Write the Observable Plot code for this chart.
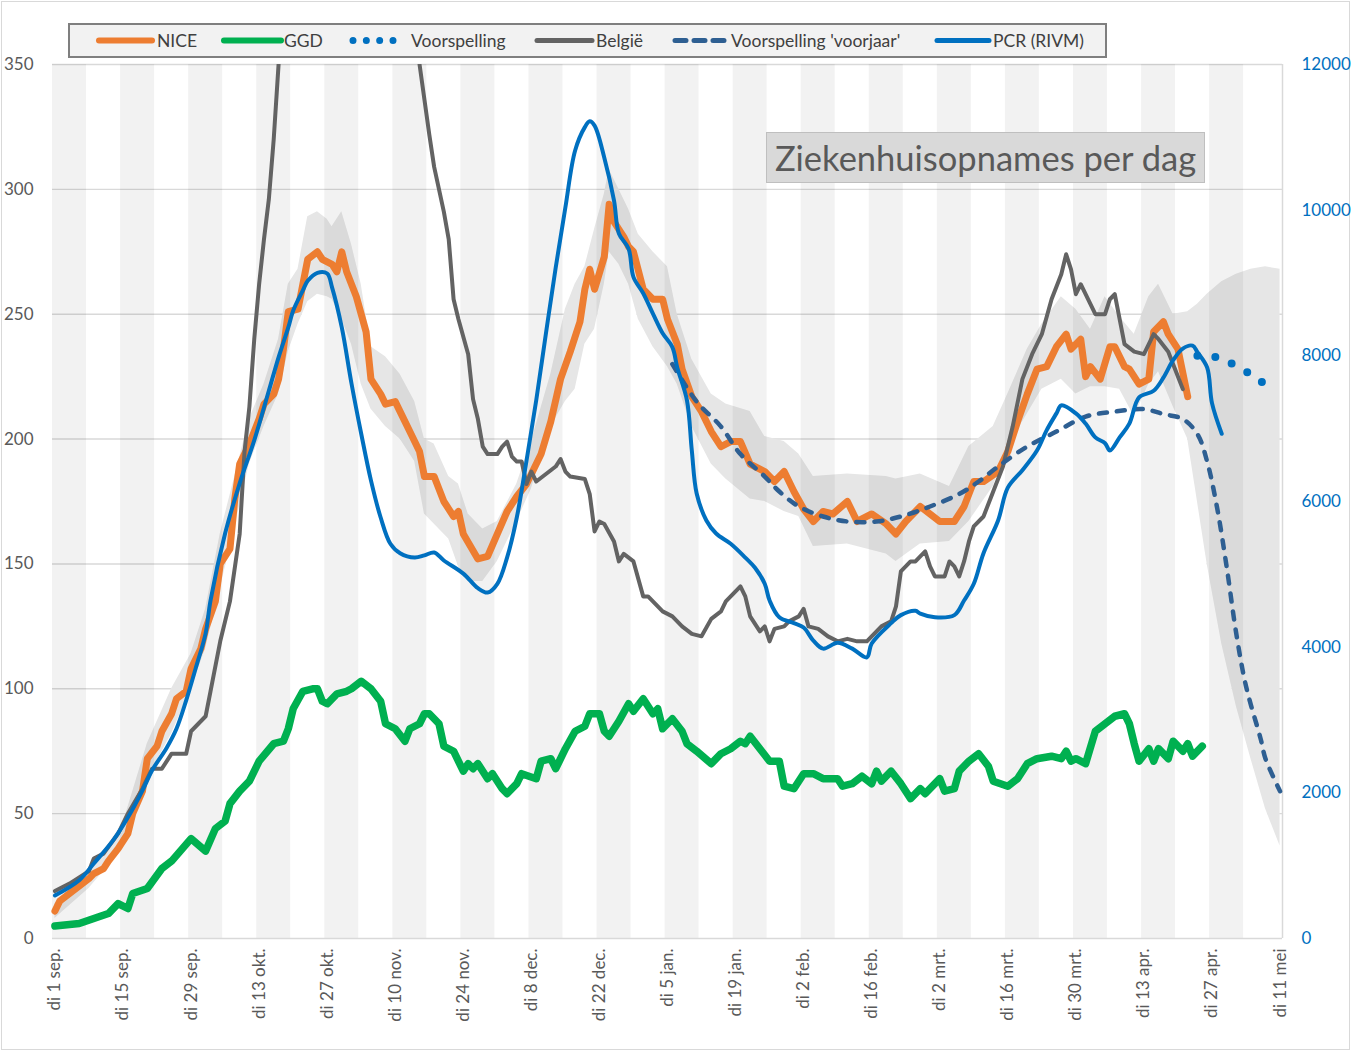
<!DOCTYPE html>
<html lang="nl">
<head>
<meta charset="utf-8">
<title>Ziekenhuisopnames per dag</title>
<script src="https://cdn.jsdelivr.net/npm/d3@7"></script>
<script src="https://cdn.jsdelivr.net/npm/@observablehq/plot@0.6"></script>
<style>
  html, body { margin: 0; padding: 0; background: #fff; }
  #figure { position: relative; width: 1352px; height: 1052px; overflow: hidden; font-family: Lato, "Open Sans", sans-serif; }
  #frame { position: absolute; left: 1px; top: 1px; width: 1347px; height: 1047px; border: 1px solid #d9d9d9; pointer-events: none; }
  #title-box { position: absolute; left: 766px; top: 132px; width: 437px; height: 49px; background: #d9d9d9; border: 1px solid #bfbfbf; color: #595959; font-size: 34.5px; line-height: 49px; text-align: center; white-space: nowrap; }
</style>
</head>
<body>
<div id="figure"><div id="frame"></div></div>
<script>
// Days are counted from Tuesday 1 September 2020.
const START = Date.UTC(2020, 8, 1);
const DAY = 864e5;
const toDate = n => new Date(START + n * DAY);

// Tick marks every two weeks (always a Tuesday)
const tickDays = [0, 14, 28, 42, 56, 70, 84, 98, 112, 126, 140, 154, 168, 182, 196, 210, 224, 238, 252];
const tickLabels = ["di 1 sep.", "di 15 sep.", "di 29 sep.", "di 13 okt.", "di 27 okt.", "di 10 nov.", "di 24 nov.",
  "di 8 dec.", "di 22 dec.", "di 5 jan.", "di 19 jan.", "di 2 feb.", "di 16 feb.", "di 2 mrt.", "di 16 mrt.",
  "di 30 mrt.", "di 13 apr.", "di 27 apr.", "di 11 mei"];
const leftTicks = [0, 50, 100, 150, 200, 250, 300, 350];
const rightTicks = [0, 2000, 4000, 6000, 8000, 10000, 12000];

// NICE hospital admissions per day [day, value]
const nice = [[0,11],[1,15],[3,18],[5,21],[7,24],[8,26],[10,28],[11,31],[13,36],[15,42],[16,50],[18,59],[19,72],[21,77],[22,83],[24,90],[25,96],[27,99],[28,108],[30,116],[31,124],[33,135],[34,150],[36,156],[37,176],[38,190],[40,198],[42,208],[43,214],[45,218],[46,224],[47,236],[48,251],[50,252],[51,262],[52,272],[54,275],[55,272],[57,270],[58,267],[59,275],[60,267],[62,257],[64,243],[65,224],[67,218],[68,214],[70,215],[71,211],[73,203],[75,195],[76,185],[78,185],[80,175],[82,169],[83,171],[84,162],[87,152],[89,153],[91,162],[93,171],[95,177],[97,182],[100,194],[102,207],[104,224],[106,235],[108,247],[109,260],[110,268],[111,260],[113,273],[114,294],[115,287],[117,281],[118,277],[119,275],[121,260],[123,256],[125,256],[126,248],[128,238],[129,228],[131,217],[133,211],[135,203],[137,197],[139,199],[141,199],[143,190],[146,187],[148,183],[150,187],[152,179],[154,172],[156,167],[158,171],[160,170],[163,175],[165,167],[168,170],[171,166],[173,162],[175,167],[178,173],[180,170],[182,167],[185,167],[187,173],[189,183],[191,183],[194,187],[196,195],[198,207],[200,218],[202,228],[204,229],[206,237],[208,242],[209,236],[211,240],[212,225],[213,229],[215,224],[217,237],[218,237],[220,229],[221,228],[223,222],[225,224],[226,243],[228,247],[229,242],[231,236],[233,217]];

// Uncertainty band around NICE, continued by the forecast band [day, lower, upper]
const band = [[0,8,14],[7,20,27],[14,36,46],[19,64,78],[24,82,100],[28,100,114],[31,116,132],[34,140,162],[37,165,185],[40,190,208],[43,205,222],[46,218,240],[48,235,262],[50,246,268],[52,255,289],[54,258,291],[56,257,288],[57,256,285],[59,248,291],[61,238,278],[63,222,262],[65,212,237],[68,205,233],[71,200,226],[74,191,215],[76,170,200],[78,166,198],[81,160,185],[83,149,182],[85,143,170],[88,143,164],[91,151,167],[95,167,182],[98,180,199],[102,205,226],[105,215,252],[107,220,262],[109,238,269],[111,244,284],[113,262,298],[114,275,308],[116,270,300],[118,262,292],[120,248,282],[123,237,275],[126,229,269],[128,222,250],[131,205,232],[135,190,218],[138,184,214],[143,176,211],[146,175,201],[150,171,199],[153,169,194],[156,157,185],[163,158,186],[171,154,185],[173,151,184],[178,158,186],[184,159,181],[188,167,197],[193,181,205],[196,197,218],[200,210,236],[203,220,246],[207,224,257],[210,218,252],[213,221,244],[216,221,257],[219,220,249],[222,209,242],[225,222,257],[227,227,262],[230,213,250],[233,200,251],[235,175,254],[237,150,258],[240,118,263],[243,93,266],[246,72,268],[249,52,269],[252,37,268]];

// GGD hospital admissions per day [day, value]
const ggd = [[0,5],[5,6],[8,8],[11,10],[13,14],[15,12],[16,18],[19,20],[22,28],[24,31],[28,40],[31,35],[33,44],[35,47],[36,54],[38,59],[40,63],[42,71],[45,78],[47,79],[48,84],[49,92],[51,99],[53,100],[54,100],[55,95],[56,94],[58,98],[60,99],[61,100],[63,103],[65,100],[67,95],[68,86],[70,84],[72,79],[73,84],[75,86],[76,90],[77,90],[79,86],[80,77],[82,75],[84,67],[85,70],[86,68],[87,70],[89,64],[90,66],[92,60],[93,58],[95,62],[96,66],[99,64],[100,71],[102,72],[103,68],[105,76],[107,83],[109,85],[110,90],[112,90],[113,83],[114,81],[116,87],[118,94],[119,91],[121,96],[123,90],[124,92],[125,84],[127,88],[129,83],[130,78],[132,75],[135,70],[137,74],[139,76],[141,79],[142,78],[143,81],[145,76],[147,71],[149,71],[150,61],[152,60],[154,66],[156,66],[158,64],[161,64],[162,61],[164,62],[166,65],[168,62],[169,67],[170,63],[172,67],[174,62],[176,56],[178,60],[179,58],[182,64],[183,59],[185,60],[186,67],[188,71],[190,74],[192,69],[193,63],[196,61],[198,64],[200,70],[202,72],[205,73],[207,72],[208,75],[209,71],[210,72],[212,70],[214,83],[216,86],[218,89],[220,90],[221,86],[222,78],[223,71],[225,76],[226,71],[227,76],[229,72],[230,79],[232,75],[233,78],[234,73],[236,77]];

// Belgium (runs above the top of the scale between mid-October and mid-November) [day, value]
const belgie = [[0,19],[3,22],[7,27],[8,32],[10,34],[13,42],[15,50],[18,60],[20,68],[22,68],[24,74],[27,74],[28,83],[31,89],[32,99],[34,119],[36,135],[38,162],[39,195],[40,213],[41,240],[42,262],[43,280],[44,296],[45,320],[46,350],[60,null],[75,350],[76,336],[77,322],[78,309],[80,291],[81,280],[82,256],[83,248],[85,234],[86,216],[87,208],[88,197],[89,194],[91,194],[92,197],[93,199],[94,193],[95,191],[96,191],[97,182],[98,187],[99,183],[101,186],[103,189],[104,192],[105,187],[106,185],[109,184],[110,178],[111,163],[112,167],[113,166],[115,159],[116,151],[117,154],[119,151],[121,137],[122,137],[123,135],[125,131],[127,129],[129,125],[131,122],[133,121],[135,128],[137,131],[138,135],[140,139],[141,141],[142,137],[143,129],[145,123],[146,125],[147,119],[148,124],[150,125],[151,127],[153,129],[154,132],[155,125],[157,124],[159,121],[161,119],[163,120],[165,119],[167,119],[169,123],[170,125],[172,127],[173,133],[174,147],[176,151],[177,151],[179,155],[180,149],[181,145],[183,145],[184,151],[185,149],[186,145],[187,151],[188,159],[189,165],[191,169],[193,179],[195,189],[197,205],[199,224],[201,234],[203,242],[205,256],[207,266],[208,274],[209,268],[210,258],[211,262],[213,254],[214,250],[216,250],[217,256],[218,258],[220,238],[222,235],[224,234],[225,238],[226,242],[227,240],[229,235],[230,230],[232,220]];

// PCR positive tests (RIVM), right-hand scale [day, value]
const pcr = [[0,590],[5,800],[8,1030],[12,1350],[15,1660],[18,2030],[20,2310],[23,2620],[25,2880],[27,3270],[29,3720],[31,4190],[32,4640],[35,5560],[38,6250],[41,6840],[44,7520],[46,7980],[48,8390],[49,8620],[51,8900],[52,9030],[54,9140],[56,9130],[57,8940],[59,8390],[61,7620],[63,6930],[65,6290],[67,5780],[69,5420],[71,5290],[74,5230],[76,5260],[78,5300],[80,5190],[84,5010],[87,4810],[89,4750],[91,4870],[93,5230],[95,5780],[97,6560],[99,7390],[101,8310],[103,9210],[105,10040],[107,10820],[109,11140],[110,11220],[111,11160],[113,10720],[115,10130],[116,9680],[118,9470],[119,9080],[121,8860],[123,8580],[125,8310],[127,8120],[128,7840],[130,7390],[131,6700],[132,6110],[134,5740],[136,5560],[139,5420],[142,5230],[144,5090],[146,4870],[147,4640],[149,4410],[152,4330],[154,4270],[156,4090],[158,3980],[161,4060],[164,3980],[167,3860],[168,4050],[172,4330],[174,4440],[177,4500],[178,4460],[181,4410],[185,4440],[187,4640],[189,4870],[191,5290],[194,5740],[196,6190],[199,6430],[202,6700],[204,6980],[206,7210],[207,7320],[210,7210],[212,7070],[214,6880],[216,6800],[217,6700],[219,6880],[221,7070],[223,7430],[226,7520],[228,7700],[230,7940],[232,8100],[234,8140],[235,8050],[237,7840],[238,7350],[240,6930]];

// Forecast of PCR positives, right-hand scale [day, value]
const voorspelling = [[235,8000],[239,7980],[243,7860],[247,7700],[250,7550]];

// Spring forecast of hospital admissions [day, value]
const voorjaar = [[127,230],[132,215],[137,205],[141,194],[146,185],[149,179],[153,173],[158,169],[163,167],[169,167],[174,169],[180,173],[186,178],[190,183],[194,189],[200,197],[206,203],[212,209],[218,211],[224,212],[228,210],[232,208],[235,202],[237,191],[239,173],[241,149],[243,122],[245,101],[248,80],[249,72],[252,59]];

// Right axis maps 0–12000 onto the left axis 0–350
const K = 350 / 12000;

const row2 = ([d, v]) => ({date: toDate(d), v: v == null ? NaN : v});
const niceData = nice.map(row2);
const ggdData = ggd.map(row2);
const belgieData = belgie.map(row2);
const pcrData = pcr.map(row2);
const voorspellingData = voorspelling.map(row2);
const voorjaarData = voorjaar.map(row2);
const bandData = band.map(([d, lo, hi]) => ({date: toDate(d), lower: lo, upper: hi}));
// shaded weeks: the first week of each fortnight
const stripes = tickDays.slice(0, -1).map(d => ({x1: toDate(d - 0.5), x2: toDate(d + 6.5)}));
const labelOf = new Map(tickDays.map((d, i) => [+toDate(d), tickLabels[i]]));

const lineOpts = {x: "date", y: "v", strokeLinejoin: "round", strokeLinecap: "round"};

const chart = Plot.plot({
  width: 1352,
  height: 1052,
  marginLeft: 52,
  marginRight: 70,
  marginTop: 64,
  marginBottom: 114,
  style: {fontFamily: "Lato, 'Open Sans', sans-serif", fontSize: "17px", color: "#595959", background: "transparent"},
  x: {type: "utc", domain: [toDate(-0.5), toDate(252.5)]},
  y: {domain: [0, 350]},
  marks: [
    Plot.ruleY(leftTicks.slice(1), {stroke: "#d9d9d9", strokeWidth: 1.4}),
    // white fill below the band hides the gridlines there
    Plot.areaY(bandData, {x: "date", y1: 0, y2: "lower", fill: "#ffffff"}),
    Plot.areaY(bandData, {x: "date", y1: "lower", y2: "upper", fill: "#e6e6e6"}),
    Plot.rect(stripes, {x1: "x1", x2: "x2", y1: 0, y2: 350, fill: "#000", fillOpacity: 0.052}),
    Plot.ruleY([0], {stroke: "#d9d9d9", strokeWidth: 1.5}),
    Plot.ruleX([toDate(252.5)], {stroke: "#d9d9d9", strokeWidth: 1.5}),
    Plot.line(niceData, {...lineOpts, stroke: "#ed7d31", strokeWidth: 7}),
    Plot.line(ggdData, {...lineOpts, stroke: "#00b050", strokeWidth: 7.5}),
    Plot.line(belgieData, {...lineOpts, stroke: "#636363", strokeWidth: 4, clip: true}),
    Plot.line(voorjaarData, {...lineOpts, curve: "catmull-rom", stroke: "#2e5f92", strokeWidth: 4.5, strokeDasharray: "8 10"}),
    Plot.line(pcrData, {...lineOpts, y: d => d.v * K, curve: "catmull-rom", stroke: "#0070c0", strokeWidth: 4}),
    Plot.line(voorspellingData, {...lineOpts, y: d => d.v * K, curve: "catmull-rom", stroke: "#0070c0", strokeWidth: 8, strokeDasharray: "0 17.8"}),
    Plot.axisY({anchor: "left", ticks: leftTicks, tickSize: 0, tickPadding: 19, label: null, fill: "#595959", fontSize: 17}),
    Plot.axisY({anchor: "right", ticks: rightTicks.map(v => v * K), tickFormat: v => String(Math.round(v / K)), tickSize: 0, tickPadding: 19, label: null, fill: "#0070c0", fontSize: 17}),
    Plot.axisX({ticks: tickDays.map(toDate), tickFormat: d => labelOf.get(+d), tickRotate: -90, tickSize: 0, tickPadding: 10, label: null, fill: "#595959", fontSize: 17})
  ]
});
chart.style.position = "absolute";
chart.style.left = "0px";
chart.style.top = "0px";
const figure = document.getElementById("figure");
figure.appendChild(chart);

// Title box inside the plot area
const titleBox = document.createElement("div");
titleBox.id = "title-box";
titleBox.textContent = "Ziekenhuisopnames per dag";
figure.appendChild(titleBox);

// Legend row above the plot
const legendEntries = [
  {label: "NICE", color: "#ed7d31", kind: "solid", w: 6},
  {label: "GGD", color: "#00b050", kind: "solid", w: 6},
  {label: "Voorspelling", color: "#0070c0", kind: "dots", w: 7},
  {label: "België", color: "#636363", kind: "solid", w: 5},
  {label: "Voorspelling 'voorjaar'", color: "#2e5f92", kind: "dashes", w: 5},
  {label: "PCR (RIVM)", color: "#0070c0", kind: "solid", w: 5}
];
const slots = [[99, 152, 157], [224, 281, 284], [353, 393, 411], [537, 592, 596], [673, 724, 731], [937, 989, 993]];
const legend = d3.create("svg")
  .attr("width", 1352).attr("height", 64)
  .style("position", "absolute").style("left", "0px").style("top", "0px");
legend.append("rect").attr("x", 69).attr("y", 24).attr("width", 1037).attr("height", 33)
  .attr("fill", "#f2f2f2").attr("stroke", "#7f7f7f").attr("stroke-width", 2);
const cy = 40.5;
legendEntries.forEach((e, i) => {
  const [a, b, tx] = slots[i];
  const g = legend.append("g");
  if (e.kind === "solid") {
    g.append("line").attr("x1", a).attr("x2", b).attr("y1", cy).attr("y2", cy)
      .attr("stroke", e.color).attr("stroke-width", e.w).attr("stroke-linecap", "round");
  } else if (e.kind === "dots") {
    g.append("line").attr("x1", a).attr("x2", b).attr("y1", cy).attr("y2", cy)
      .attr("stroke", e.color).attr("stroke-width", e.w).attr("stroke-linecap", "round")
      .attr("stroke-dasharray", `0 ${(b - a) / 3}`);
  } else {
    g.append("line").attr("x1", a + 2).attr("x2", b).attr("y1", cy).attr("y2", cy)
      .attr("stroke", e.color).attr("stroke-width", e.w).attr("stroke-linecap", "round")
      .attr("stroke-dasharray", "11 8");
  }
  g.append("text").attr("x", tx).attr("y", cy).attr("dy", "0.35em")
    .attr("font-family", "Lato, 'Open Sans', sans-serif").attr("font-size", 17.5)
    .attr("fill", "#404040").text(e.label);
});
figure.appendChild(legend.node());
</script>
</body>
</html>
